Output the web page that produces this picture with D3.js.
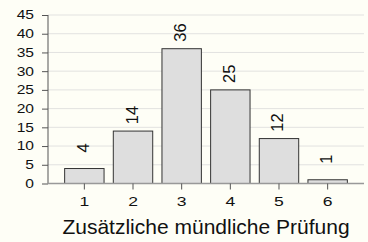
<!DOCTYPE html>
<html><head><meta charset="utf-8">
<script src="https://cdn.jsdelivr.net/npm/d3@7"></script>
<style>html,body{margin:0;padding:0;background:#fefef6;}svg{display:block;}</style>
</head><body>
<svg id="c" width="368" height="242"></svg>
<script>
const categories = ["1","2","3","4","5","6"];
const values = [4,14,36,25,12,1];
const yTicks = [0,5,10,15,20,25,30,35,40,45];
const xTitle = "Zusätzliche mündliche Prüfung";

(function(){
const svg = d3.select("#c");
const W = 368, H = 242;
const mLeft = 48, mRight = 364, mTop = 15, mBottom = 183.5;
const font = "'Liberation Sans', Arial, sans-serif";

svg.append("rect").attr("width", W).attr("height", H).attr("fill", "#fefef6");

const x = d3.scaleBand().domain(categories).range([mLeft, mRight]).paddingInner(0.19).paddingOuter(0.342);
const y = d3.scaleLinear().domain([0,45]).range([mBottom, mTop]);

svg.append("g").selectAll("line").data(yTicks.filter(d=>d>0)).join("line")
  .attr("x1", mLeft).attr("x2", mRight)
  .attr("y1", d=>y(d)).attr("y2", d=>y(d))
  .attr("stroke", "#e2e2e0").attr("stroke-width", 1);

const yAxis = d3.axisLeft(y).tickValues(yTicks).tickSize(6).tickPadding(3);
const gy = svg.append("g").attr("transform", `translate(${mLeft},0)`).call(yAxis);
gy.select(".domain").attr("stroke", "#555").attr("stroke-width", 1).attr("d", `M0,${y(45)}V${mBottom}`);
gy.selectAll(".tick line").attr("stroke", "#555");
gy.selectAll("text").attr("font-family", font).attr("font-size", 12).attr("fill", "#111")
  .attr("x", 0).attr("transform", "translate(-14,0) scale(1.3,1)");

svg.append("g").selectAll("rect").data(values).join("rect")
  .attr("x", (d,i)=>x(categories[i]))
  .attr("y", d=>y(d))
  .attr("width", x.bandwidth())
  .attr("height", d=>mBottom - y(d))
  .attr("fill", "#dedede").attr("stroke", "#333").attr("stroke-width", 1);

svg.append("line").attr("x1", mLeft).attr("x2", mRight).attr("y1", mBottom).attr("y2", mBottom)
  .attr("stroke", "#999").attr("stroke-width", 1.5);

const xAxis = d3.axisBottom(x).tickSize(6).tickPadding(5);
const gx = svg.append("g").attr("transform", `translate(0,${mBottom})`).call(xAxis);
gx.select(".domain").remove();
gx.selectAll(".tick line").attr("stroke", "#555");
gx.selectAll("text").attr("font-family", font).attr("font-size", 13.5).attr("fill", "#111")
  .attr("y", 22.5).attr("dy", 0).attr("transform", "scale(1.3,1)");

svg.append("g").selectAll("text").data(values).join("text")
  .attr("transform", (d,i)=>`translate(${x(categories[i]) + x.bandwidth()/2 + 4.5},${y(d) - 25.3}) rotate(-90)`)
  .attr("text-anchor", "end")
  .attr("font-family", font).attr("font-size", 16.5).attr("fill", "#111")
  .text(d=>d);

svg.append("text").attr("x", (mLeft+mRight)/2).attr("y", 234)
  .attr("text-anchor", "middle").attr("font-family", font).attr("font-size", 21).attr("fill", "#111")
  .text(xTitle);
})();
</script>
</body></html>
